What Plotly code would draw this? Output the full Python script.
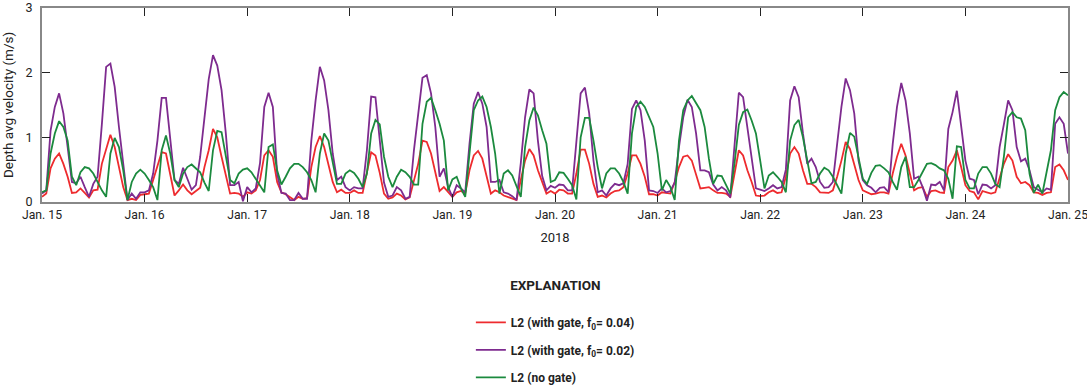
import pandas as pd
import plotly.graph_objects as go

# hourly depth-averaged velocity (m/s), 2018-01-15 00:00 .. 2018-01-25 00:00
red_f004 = [
    0.08, 0.13, 0.52, 0.67, 0.75, 0.59, 0.39, 0.14, 0.15, 0.21,
    0.14, 0.07, 0.18, 0.19, 0.59, 0.80, 1.04, 0.85, 0.54, 0.23,
    0.03, 0.05, 0.03, 0.11, 0.12, 0.13, 0.34, 0.54, 0.77, 0.75,
    0.44, 0.10, 0.18, 0.27, 0.18, 0.12, 0.17, 0.22, 0.54, 0.80,
    1.13, 1.00, 0.70, 0.39, 0.13, 0.14, 0.13, 0.08, 0.15, 0.13,
    0.18, 0.34, 0.72, 0.80, 0.70, 0.31, 0.15, 0.12, 0.08, 0.03,
    0.08, 0.05, 0.06, 0.54, 0.85, 1.02, 0.85, 0.59, 0.31, 0.15,
    0.19, 0.14, 0.14, 0.18, 0.14, 0.14, 0.44, 0.77, 0.72, 0.45,
    0.13, 0.05, 0.07, 0.13, 0.10, 0.04, 0.07, 0.31, 0.59, 0.95,
    0.93, 0.75, 0.44, 0.17, 0.23, 0.15, 0.08, 0.15, 0.17, 0.13,
    0.49, 0.72, 0.79, 0.67, 0.41, 0.13, 0.18, 0.15, 0.10, 0.08,
    0.05, 0.03, 0.34, 0.64, 0.82, 0.72, 0.49, 0.30, 0.13, 0.17,
    0.13, 0.19, 0.18, 0.13, 0.13, 0.44, 0.81, 0.81, 0.59, 0.28,
    0.08, 0.10, 0.07, 0.13, 0.17, 0.18, 0.23, 0.44, 0.72, 0.72,
    0.59, 0.39, 0.12, 0.12, 0.10, 0.15, 0.14, 0.13, 0.31, 0.54,
    0.70, 0.72, 0.64, 0.44, 0.21, 0.22, 0.23, 0.18, 0.14, 0.14,
    0.13, 0.08, 0.44, 0.80, 0.72, 0.49, 0.31, 0.10, 0.09, 0.10,
    0.15, 0.18, 0.14, 0.15, 0.39, 0.75, 0.85, 0.75, 0.49, 0.28,
    0.28, 0.23, 0.15, 0.14, 0.14, 0.18, 0.39, 0.64, 0.93, 0.82,
    0.59, 0.34, 0.18, 0.15, 0.12, 0.13, 0.15, 0.15, 0.13, 0.44,
    0.70, 0.90, 0.72, 0.44, 0.18, 0.22, 0.23, 0.08, 0.17, 0.18,
    0.15, 0.14, 0.54, 0.64, 0.80, 0.54, 0.26, 0.17, 0.15, 0.04,
    0.17, 0.15, 0.13, 0.15, 0.39, 0.59, 0.74, 0.64, 0.39, 0.29,
    0.31, 0.26, 0.15, 0.14, 0.11, 0.14, 0.15, 0.54, 0.58, 0.49, 0.34,
]

purple_f002 = [
    0.13, 0.18, 1.10, 1.47, 1.68, 1.37, 0.85, 0.31, 0.29, 0.39,
    0.23, 0.08, 0.28, 0.39, 1.20, 2.09, 2.14, 1.78, 1.16, 0.54,
    0.03, 0.13, 0.05, 0.15, 0.15, 0.18, 0.44, 0.95, 1.61, 1.61,
    1.00, 0.34, 0.28, 0.53, 0.36, 0.19, 0.26, 0.70, 1.30, 1.90,
    2.27, 2.11, 1.73, 1.06, 0.26, 0.26, 0.31, 0.01, 0.23, 0.15,
    0.21, 0.60, 1.47, 1.69, 1.47, 0.44, 0.14, 0.13, 0.03, 0.03,
    0.14, 0.05, 0.05, 0.95, 1.57, 2.09, 1.88, 1.42, 0.75, 0.34,
    0.39, 0.23, 0.18, 0.23, 0.21, 0.21, 0.80, 1.63, 1.62, 1.00,
    0.30, 0.08, 0.10, 0.23, 0.18, 0.05, 0.08, 0.80, 1.35, 1.92,
    1.96, 1.68, 1.16, 0.39, 0.52, 0.23, 0.08, 0.26, 0.21, 0.15,
    0.90, 1.52, 1.70, 1.52, 1.16, 0.31, 0.31, 0.34, 0.15, 0.13,
    0.09, 0.03, 0.60, 1.31, 1.74, 1.68, 0.95, 0.40, 0.18, 0.25,
    0.22, 0.27, 0.26, 0.18, 0.18, 0.90, 1.68, 1.77, 1.37, 0.64,
    0.15, 0.18, 0.10, 0.21, 0.28, 0.26, 0.29, 0.59, 1.44, 1.57,
    1.42, 0.95, 0.18, 0.17, 0.14, 0.21, 0.15, 0.17, 0.30, 0.85,
    1.31, 1.58, 1.47, 1.06, 0.49, 0.49, 0.46, 0.27, 0.18, 0.23,
    0.18, 0.07, 0.95, 1.69, 1.62, 1.16, 0.64, 0.21, 0.19, 0.17,
    0.21, 0.26, 0.21, 0.23, 0.50, 1.57, 1.79, 1.62, 1.06, 0.59,
    0.67, 0.54, 0.31, 0.22, 0.23, 0.31, 0.90, 1.47, 1.91, 1.73,
    1.37, 0.64, 0.34, 0.26, 0.22, 0.15, 0.22, 0.23, 0.15, 0.90,
    1.47, 1.84, 1.57, 1.06, 0.36, 0.39, 0.23, 0.02, 0.27, 0.26,
    0.31, 0.18, 1.13, 1.39, 1.72, 1.21, 0.64, 0.36, 0.34, 0.12,
    0.27, 0.26, 0.21, 0.26, 0.85, 1.20, 1.57, 1.42, 0.85, 0.63,
    0.67, 0.49, 0.23, 0.19, 0.15, 0.21, 0.19, 1.21, 1.31, 1.21, 0.75,
]

green_nogate = [
    0.15, 0.18, 0.75, 1.06, 1.25, 1.16, 0.95, 0.39, 0.26, 0.46,
    0.54, 0.52, 0.44, 0.31, 0.18, 0.08, 0.75, 0.99, 0.85, 0.49,
    0.03, 0.31, 0.44, 0.50, 0.44, 0.34, 0.23, 0.03, 0.80, 1.03,
    0.75, 0.34, 0.23, 0.44, 0.54, 0.58, 0.52, 0.46, 0.30, 0.17,
    0.80, 1.10, 1.08, 0.70, 0.34, 0.29, 0.44, 0.50, 0.52, 0.46,
    0.36, 0.26, 0.15, 0.85, 0.89, 0.49, 0.27, 0.39, 0.52, 0.59,
    0.59, 0.54, 0.46, 0.34, 0.15, 0.75, 1.06, 0.95, 0.64, 0.28,
    0.28, 0.44, 0.49, 0.45, 0.36, 0.23, 0.44, 1.06, 1.27, 1.20,
    0.70, 0.39, 0.23, 0.39, 0.50, 0.46, 0.39, 0.27, 0.27, 1.21,
    1.55, 1.61, 1.42, 1.21, 0.95, 0.18, 0.35, 0.39, 0.21, 0.08,
    0.75, 1.42, 1.57, 1.63, 1.47, 1.16, 0.75, 0.13, 0.44, 0.49,
    0.41, 0.23, 0.08, 0.85, 1.26, 1.46, 1.34, 1.11, 0.90, 0.31,
    0.34, 0.46, 0.45, 0.36, 0.26, 0.04, 1.00, 1.30, 1.30, 0.95,
    0.54, 0.21, 0.44, 0.52, 0.52, 0.44, 0.31, 0.13, 1.06, 1.47,
    1.55, 1.47, 1.31, 1.16, 0.75, 0.18, 0.34, 0.23, 0.03, 0.95,
    1.42, 1.57, 1.64, 1.52, 1.42, 1.16, 0.67, 0.28, 0.41, 0.40,
    0.26, 0.13, 0.60, 1.19, 1.39, 1.43, 1.26, 1.06, 0.64, 0.21,
    0.41, 0.46, 0.39, 0.31, 0.15, 0.95, 1.19, 1.27, 1.00, 0.64,
    0.29, 0.31, 0.44, 0.53, 0.49, 0.39, 0.26, 0.13, 0.75, 1.07,
    1.01, 0.70, 0.36, 0.28, 0.45, 0.56, 0.57, 0.52, 0.46, 0.31,
    0.19, 0.54, 0.70, 0.23, 0.23, 0.34, 0.46, 0.59, 0.60, 0.57,
    0.52, 0.49, 0.36, 0.05, 0.86, 0.85, 0.34, 0.21, 0.21, 0.44,
    0.54, 0.54, 0.44, 0.28, 0.23, 0.70, 1.31, 1.39, 1.31, 1.29,
    1.11, 0.44, 0.14, 0.27, 0.13, 0.44, 0.80, 1.42, 1.62, 1.70, 1.65,
]

series_names = [
    "<b>L2 (with gate, f<sub>0</sub>= 0.04)</b>",
    "<b>L2 (with gate, f<sub>0</sub>= 0.02)</b>",
    "<b>L2 (no gate)</b>",
]
series_colors = ["#EE2B2E", "#7E2B8F", "#1B8A3E"]

tick_dates = pd.date_range("2018-01-15", "2018-01-25", freq="D")
tick_labels = ["Jan. 15", "Jan. 16", "Jan. 17", "Jan. 18", "Jan. 19", "Jan. 20",
               "Jan. 21", "Jan. 22", "Jan. 23", "Jan. 24", "Jan. 25"]
y_ticks = [0, 1, 2, 3]

times = pd.date_range("2018-01-15 00:00", periods=len(red_f004), freq="h")

FONT = "Liberation Sans Narrow, Roboto, Arial, sans-serif"

fig = go.Figure()
for i, (vals, name, col) in enumerate(zip([red_f004, purple_f002, green_nogate],
                                          series_names, series_colors)):
    fig.add_trace(go.Scatter(x=times, y=vals, mode="lines", name=name,
                             legendgroup=f"g{i}",
                             line=dict(color=col, width=1.8)))

fig.update_layout(
    width=1087, height=387,
    margin=dict(l=42, r=19, t=8, b=185, autoexpand=False),
    paper_bgcolor="white", plot_bgcolor="white",
    font=dict(family=FONT, size=12.5, color="#222"),
    showlegend=True,
    legend=dict(
        x=0.418, xanchor="left", y=-0.365, yanchor="top",
        title=dict(text="<b>EXPLANATION</b><br> ", side="top center",
                   font=dict(size=13.5, family=FONT)),
        font=dict(size=12, family=FONT),
        tracegroupgap=8.5,
        bgcolor="rgba(0,0,0,0)",
    ),
    xaxis=dict(
        range=[tick_dates[0], tick_dates[-1]],
        tickvals=list(tick_dates), ticktext=tick_labels,
        ticks="inside", ticklen=8, tickwidth=1, tickcolor="#222",
        showline=True, linecolor="#888", linewidth=2, mirror="allticks",
        showgrid=False, zeroline=False, automargin=False,
        ticklabeloverflow="allow",
        title=dict(text="2018", font=dict(size=13), standoff=12),
        tickfont=dict(size=12.2),
    ),
    yaxis=dict(
        range=[0, 3], tickvals=y_ticks,
        ticks="inside", ticklen=8, tickwidth=1, tickcolor="#222",
        showline=True, linecolor="#888", linewidth=2, mirror="allticks",
        showgrid=False, zeroline=False, ticklabelstandoff=5, automargin=False,
        ticklabeloverflow="allow",
        title=dict(text="Depth avg velocity (m/s)", font=dict(size=13.5), standoff=10),
        tickfont=dict(size=12.5),
    ),
)

fig.write_html("out.html", config={"displayModeBar": False},
               post_script="document.body.style.margin='0';")
